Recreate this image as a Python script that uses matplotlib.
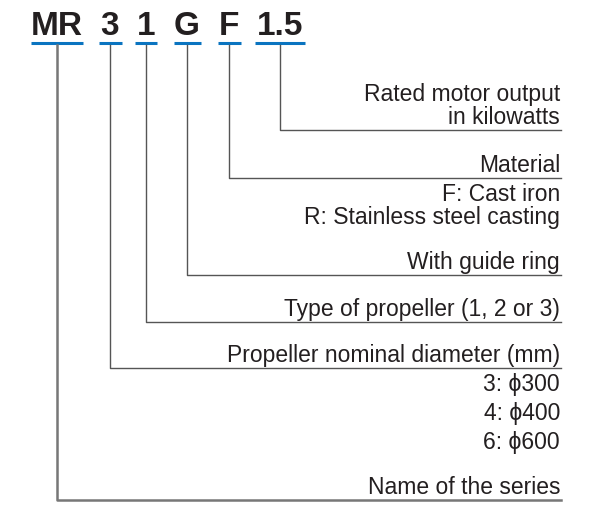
import matplotlib.pyplot as plt

plt.rcParams['font.family'] = ['Liberation Sans', 'DejaVu Sans']

# model code parts and what they mean
codes = ['MR', '3', '1', 'G', 'F', '1.5']
titles = ['Name of the series',
          'Propeller nominal diameter (mm)',
          'Type of propeller (1, 2 or 3)',
          'With guide ring',
          'Material',
          'Rated motor output\nin kilowatts']
notes = ['',
         '3: \u03d5300\n4: \u03d5400\n6: \u03d5600',
         '',
         '',
         'F: Cast iron\nR: Stainless steel casting',
         '']

# layout (pixels)
code_x = [57, 110, 146, 187, 229, 280]
code_w = [52, 23, 22, 27, 23, 50]
line_y = [500, 368, 322, 275, 178, 130]
right = 561
top = 43

txt = '#231f20'
grey = '#555555'
blue = '#0a74c0'

fig = plt.figure(figsize=(6.02, 5.05), dpi=100)
ax = fig.add_axes([0, 0, 1, 1])
ax.set_xlim(0, 602)
ax.set_ylim(505, 0)
ax.axis('off')

for i in range(len(codes)):
    x = code_x[i]
    ax.text(x, 35, codes[i], ha='center', va='baseline', fontsize=24,
            fontweight='bold', color=txt)
    ax.plot([x - code_w[i] / 2, x + code_w[i] / 2], [top, top], color=blue, lw=2.2,
            solid_capstyle='butt')
    lw = 1.8 if i == 0 else 1.0
    c = '#777777' if i == 0 else grey
    ax.plot([x, x, right], [top + 2, line_y[i], line_y[i]], color=c, lw=lw)
    ax.text(right - 1, line_y[i] - 1, titles[i], ha='right', va='bottom',
            fontsize=16.5, color=txt, linespacing=1.0)
    if notes[i]:
        ax.text(right - 1, line_y[i] + 5, notes[i], ha='right', va='top',
                fontsize=16.5, color=txt, linespacing=1.33 if i == 1 else 1.0)

fig.savefig('out.png', dpi=100)
